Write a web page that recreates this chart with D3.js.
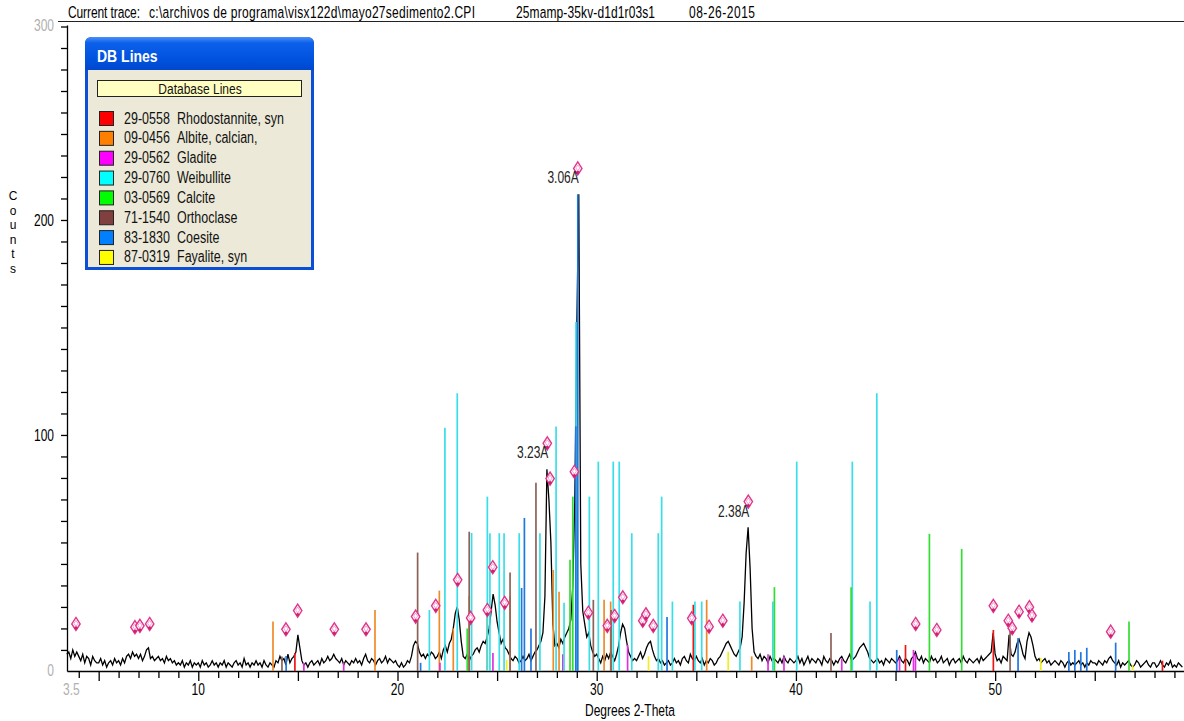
<!DOCTYPE html>
<html>
<head>
<meta charset="utf-8">
<title>DB Lines</title>
<script src="https://d3js.org/d3.v7.min.js"></script>
<style>
  body { margin: 0; background: #fff; overflow: hidden; }
  svg text { font-family: Arial, "Liberation Sans", sans-serif; }
</style>
</head>
<body>
<div id="chart"></div>
<script>
// ---- data ----
// scan: 2-theta from 3.4 in steps of 0.1 deg, counts
var traceStart = 3.4, traceStep = 0.1;
var traceCounts = [
  -2, -1, -4, 0, -3, -1,
  -3, -5, -2, -6, -3, -4, -7, -3, -5, -6,
  -6, -4, -7, -5, -8, -6, -5, -7, -4, -6,
  -5, -7, -4, -6, -3, -2, -4, -1, -3, -2,
  -4, -2, -5, -3, 0, 1, -4, -3, -5, -4,
  -3, -5, -4, -6, -3, -5, -4, -6, -5, -7,
  -6, -7, -5, -8, -6, -7, -5, -8, -6, -7,
  -6, -8, -5, -7, -6, -8, -7, -5, -7, -6,
  -8, -6, -7, -5, -8, -6, -7, -8, -6, -5,
  -7, -6, -8, -4, -7, -6, -8, -6, -7, -5,
  -7, -6, -8, -5, -7, -8, -6, -7, -8, -5,
  -6, -3, -5, -4, -7, -2, -6, -4, -3, -1,
  7, 1, -5, -7, -6, -8, -6, -5, -7, -6,
  -5, -7, -4, -6, -5, -3, -5, -4, -2, -4,
  -5, -6, -4, -7, -5, -6, -7, -5, -6, -4,
  -6, -5, -7, -4, -2, -5, -6, -4, -5, -7,
  -5, -4, -6, -5, -3, -6, -4, -5, -6, -5,
  -7, -8, -6, -8, -7, -5, -6, -3, 2, 4,
  3, -1, -3, -2, -4, -2, -3, -1, -2, -4,
  -3, -1, -4, 0, 2, -1, 3, 5, 10, 17,
  20, 14, 4, -3, -4, -2, -5, -3, -2, 0,
  1, -1, 2, 4, 3, 6, 10, 18, 26, 21,
  13, 8, 3, 5, 1, 0, -2, -4, -5, -3,
  -4, -6, -5, -3, -5, -4, -2, -5, -3, -1,
  0, 2, 4, 8, 25, 84, 70, 50, 12, 2,
  3, 1, 5, 3, 6, 8, 10, 14, 30, 70,
  150, 212, 40, 18, 12, 6, 8, 2, -1, -3,
  -2, -4, -6, -3, -5, -2, -4, -1, -3, -5,
  -2, 2, 8, 12, 10, 4, -1, -3, -5, -4,
  -5, -3, -1, -4, -2, 1, 3, 4, 0, -3,
  -5, -4, -6, -5, -7, -6, -5, -7, -6, -4,
  -6, -5, -7, -4, -3, -5, -6, -2, -4, -5,
  -3, -5, -6, -4, -7, -5, -6, -4, -5, -7,
  -6, -4, -3, -1, 1, 3, 4, 2, 0, -2,
  -3, -1, 1, 6, 22, 45, 57, 38, 10, -1,
  -3, -4, -2, -5, -3, -4, -6, -3, -5, -4,
  -5, -6, -4, -6, -3, -5, -6, -4, -5, -6,
  -5, -3, -6, -4, -7, -5, -3, -6, -4, -5,
  -6, -4, -5, -7, -3, -5, -6, -4, -5, -7,
  -5, -6, -4, -3, -5, -6, -4, -2, -5, -4,
  -3, -1, 1, 2, 3, 1, -1, -4, -5, -6,
  -5, -4, -6, -5, -7, -4, -5, -6, -4, -5,
  -6, -5, -3, -5, -6, -4, -5, -7, -4, -3,
  -1, -4, -5, -3, -6, -4, -5, -6, -3, -5,
  -4, -6, -5, -3, -6, -5, -4, -7, -5, -4,
  -6, -5, -4, -6, -3, -5, -6, -4, -5, -6,
  -5, -4, -6, -3, -5, -4, -3, -2, -1, 8,
  -2, -5, -4, -6, -3, -4, -5, 7, -2, -3,
  -1, 3, 5, 2, -2, -4, 4, 8, 6, 2,
  -3, -5, -4, -6, -5, -4, -6, -5, -7, -6,
  -5, -6, -7, -5, -6, -8, -6, -5, -7, -6,
  -7, -6, -5, -7, -6, -8, -6, -7, -5, -6,
  -6, -7, -5, -6, -7, -5, -6, -4, -3, -5,
  -6, -7, -5, -8, -6, -7, -6, -5, -7, -8,
  -7, -5, -6, -8, -7, -6, -5, -7, -8, -6,
  -6, -8, -7, -5, -7, -8, -6, -7, -5, -8,
  -7, -8, -6, -7, -8
];

// database stick lines: [2-theta, counts]
var rhodostanniteLines = [[14.85, -1.4], [23.6, -3], [34.85, 21], [45.5, 2.3], [49.91, 9.3], [58.4, -5]];
var albiteLines = [[13.75, 13.2], [18.87, 18.6], [22.1, 27.6], [22.8, 10], [23.6, 25], [24.5, 20], [25.65, 25],
  [27.82, 37.2], [28.11, 27.1], [30.37, 23.3], [30.7, 22.5], [35.52, 23.3], [37.78, -3]];
var gladiteLines = [[15.3, -6], [17.3, -6], [22.13, -6], [24.79, -1.4], [28.3, -2], [31.55, 2.3], [38.6, -2],
  [39.4, -3], [42.3, -4], [45.2, -3.7], [45.9, 0], [46.0, -2]];
var weibulliteLines = [[21.6, 18.6], [22.38, 103.4], [23.0, 119.4], [23.72, 54.4], [24.51, 71.3], [24.64, 54.3],
  [25.11, 54.3], [25.35, 54.3], [26.11, 54.3], [27.15, 54.3], [27.96, 103.9], [28.36, 21.9], [28.96, 152.6],
  [29.63, 71.3], [30.08, 87.6], [30.83, 87.6], [31.13, 87.6], [31.76, 54.3], [33.09, 54.3], [33.26, 71.3],
  [33.8, 22.5], [34.93, 22.5], [35.27, 22.5], [37.19, 22.5], [38.84, 22.5], [40.04, 87.6], [42.83, 87.6],
  [43.72, 22.5], [44.06, 119.4]];
var calciteLines = [[23.5, 10], [28.66, 42], [28.8, 71.3], [38.92, 29.2], [42.77, 29.2], [46.7, 54], [48.32, 47], [56.72, 13.2]];
var orthoclaseLines = [[14.2, -3], [21.01, 45.3], [23.6, 55], [25.65, 36], [26.95, 77.8], [29.83, 23.3], [30.72, 18.6],
  [41.76, 7.9], [50.75, 12]];
var coesiteLines = [[14.41, -2.8], [21.16, -6], [26.23, 28.8], [26.37, 61.4], [26.7, 10], [28.95, 104], [29.05, 212],
  [33.53, 15.3], [45.06, 0], [51.15, 5.6], [53.7, -1], [54.0, 0], [54.3, -1], [54.6, 1], [56.05, 3.4]];
var fayaliteLines = [[25.48, -4.6], [32.6, -3], [36.6, -0.8], [52.29, -3.7], [56.9, -7]];

var phaseCodes = ["29-0558", "09-0456", "29-0562", "29-0760", "03-0569", "71-1540", "83-1830", "87-0319"];
var phaseNames = ["Rhodostannite, syn", "Albite, calcian,", "Gladite", "Weibullite", "Calcite", "Orthoclase", "Coesite", "Fayalite, syn"];
var phaseLines = [rhodostanniteLines, albiteLines, gladiteLines, weibulliteLines, calciteLines, orthoclaseLines, coesiteLines, fayaliteLines];
var phaseColors = ["#ff0000", "#ff8000", "#ff00ff", "#00ffff", "#00ff00", "#804040", "#0080ff", "#ffff00"];
var stickColors = ["#e81818", "#f08a28", "#e030e0", "#38dfe8", "#33dd33", "#8c6258", "#1f78e0", "#f0ee20"];

// peak markers (2-theta, counts) and d-spacing labels
var peakDeg = [3.86, 6.82, 7.07, 7.56, 14.40, 14.99, 16.83, 18.42, 20.91, 21.92, 23.02, 23.67, 24.51, 24.78, 25.38,
  27.52, 27.66, 28.88, 29.05, 29.58, 30.53, 30.90, 31.31, 32.31, 32.47, 32.84, 34.77, 35.64, 36.33, 37.61,
  46.01, 47.07, 49.91, 50.66, 50.86, 51.20, 51.72, 51.85, 55.80];
var peakCounts = [12.1, 10.6, 11.2, 12.1, 9.6, 18.3, 9.6, 9.6, 15.5, 20.5, 32.6, 14.9, 18.6, 38.5, 21.9,
  96.1, 79.7, 82.9, 224, 17.3, 11.2, 15.8, 24.5, 13.6, 16.6, 11.2, 14.7, 10.8, 13.6, 69,
  12.1, 9.3, 20.5, 13.6, 10.1, 17.8, 19.9, 16, 8.5];
var labelText = ["3.23A", "3.06A", "2.38A"];
var labelDeg = [27.52, 29.05, 37.61];
var labelCounts = [96.1, 224, 69];

var xTickLabels = [10, 20, 30, 40, 50];
var yTickLabels = [100, 200];

// ---- chart ----
var W = 1184, H = 721;
var svg = d3.select("#chart").append("svg").attr("width", W).attr("height", H);

var x = d3.scaleLinear().domain([3.41, 59.48]).range([67, 1184]);
var y = d3.scaleLinear().domain([-9.8, 290.7]).range([671, 25]);
var base = y.range()[0];

// text in the screenshot is drawn tall and narrow
function label(g, px, py, str, anchor, size, sy, color, weight) {
  return g.append("text")
    .attr("transform", "translate(" + px + "," + py + ") scale(1," + sy + ")")
    .attr("text-anchor", anchor)
    .attr("font-size", size)
    .attr("font-weight", weight || "normal")
    .attr("fill", color || "#000")
    .text(str);
}

// header
svg.append("line").attr("x1", 58).attr("x2", W).attr("y1", 21.5).attr("y2", 21.5)
  .attr("stroke", "#222").attr("stroke-width", 1.2);
label(svg, 68, 18, "Current trace:", "start", 12, 1.4).attr("textLength", 72);
label(svg, 149, 18, "c:\\archivos de programa\\visx122d\\mayo27sedimento2.CPI", "start", 12, 1.4).attr("textLength", 326);
label(svg, 516, 18, "25mamp-35kv-d1d1r03s1", "start", 12, 1.4).attr("textLength", 139);
label(svg, 689, 18, "08-26-2015", "start", 12, 1.4).attr("textLength", 66);

// axes
var gx = svg.append("g").attr("transform", "translate(0," + base + ")")
  .call(d3.axisBottom(x).tickValues(d3.range(4, 60)).tickSize(7).tickSizeOuter(0).tickFormat(""));
gx.selectAll(".tick line").attr("y2", function(d) { return d % 5 === 0 ? 10 : 7; });
var gy = svg.append("g").attr("transform", "translate(" + x.range()[0] + ",0)")
  .call(d3.axisLeft(y).tickValues(d3.range(0, 291, 10)).tickSize(6).tickSizeOuter(0).tickFormat(""));
svg.selectAll(".domain, .tick line").attr("stroke", "#000").attr("stroke-width", 1.3);

xTickLabels.forEach(function(v) { label(svg, x(v), 695, v, "middle", 12, 1.4); });
label(svg, x.range()[0] - 4, 695, "3.5", "start", 12, 1.4, "#b0b0b0");
yTickLabels.forEach(function(v) { label(svg, 54, y(v) + 6, v, "end", 12, 1.4); });
label(svg, 54, y.range()[1] + 6, "300", "end", 12, 1.4, "#b0b0b0");
label(svg, 54, base + 5, "0", "end", 12, 1.4, "#b0b0b0");
label(svg, 630, 716, "Degrees 2-Theta", "middle", 12, 1.4);

// stacked y title, one letter per line
"Counts".split("").forEach(function(ch, i) {
  label(svg, 13, 200 + i * 14.6, ch, "middle", 12, 1.05);
});

// scan trace
var traceData = traceCounts.map(function(c, i) { return [traceStart + i * traceStep, c]; });
svg.append("path").datum(traceData)
  .attr("d", d3.line().x(function(d) { return x(d[0]); }).y(function(d) { return y(d[1]); }))
  .attr("fill", "none").attr("stroke", "#000").attr("stroke-width", 1.3);

// database lines
phaseLines.forEach(function(lines, k) {
  svg.append("g").selectAll("line").data(lines).enter().append("line")
    .attr("x1", function(d) { return x(d[0]); })
    .attr("x2", function(d) { return x(d[0]); })
    .attr("y1", base)
    .attr("y2", function(d) { return y(d[1]); })
    .attr("stroke", stickColors[k]).attr("stroke-width", 1.7);
});

// peak markers
var mk = svg.append("g").selectAll("g").data(d3.zip(peakDeg, peakCounts)).enter().append("g")
  .attr("transform", function(d) { return "translate(" + x(d[0]) + "," + y(d[1]) + ")"; });
mk.append("path").attr("d", "M0,-6.5L4.2,0L0,6.5L-4.2,0Z")
  .attr("fill", "#fff").attr("stroke", "#e0368c").attr("stroke-width", 1.4);
mk.append("path").attr("d", "M0,-3.5L2,-0.5L0,2.5L-2,-0.5Z")
  .attr("fill", "none").attr("stroke", "#f08cc0").attr("stroke-width", 0.8);
mk.append("circle").attr("cy", 4).attr("r", 1.7).attr("fill", "#d0206f");

labelText.forEach(function(t, i) {
  label(svg, x(labelDeg[i]) + 1, y(labelCounts[i]) + 15, t, "end", 12, 1.3, "#222");
});

// legend window
var lg = svg.append("g");
var defs = svg.append("defs");
var grad = defs.append("linearGradient").attr("id", "tbar").attr("x1", 0).attr("x2", 0).attr("y1", 0).attr("y2", 1);
grad.append("stop").attr("offset", "0%").attr("stop-color", "#4a90f8");
grad.append("stop").attr("offset", "18%").attr("stop-color", "#0c60ea");
grad.append("stop").attr("offset", "70%").attr("stop-color", "#0052de");
grad.append("stop").attr("offset", "100%").attr("stop-color", "#0048cc");

lg.append("path").attr("d", "M85,270L85,44Q85,37 92,37L307,37Q314,37 314,44L314,270Z").attr("fill", "#0a4fd6");
lg.append("path").attr("d", "M85,70L85,44Q85,37 92,37L307,37Q314,37 314,44L314,70Z").attr("fill", "url(#tbar)");
lg.append("rect").attr("x", 88).attr("y", 70).attr("width", 223).attr("height", 197).attr("fill", "#ece9d8");
label(lg, 97, 62, "DB Lines", "start", 14, 1.15, "#fff", "bold");
lg.append("rect").attr("x", 97.5).attr("y", 80.5).attr("width", 204).attr("height", 16)
  .attr("fill", "#ffffc1").attr("stroke", "#222");
label(lg, 200, 94, "Database Lines", "middle", 12, 1.15, "#111");

phaseCodes.forEach(function(code, i) {
  var ty = 111 + i * 19.85;
  lg.append("rect").attr("x", 99.5).attr("y", ty + 0.5).attr("width", 14).attr("height", 14)
    .attr("fill", phaseColors[i]).attr("stroke", "#222");
  label(lg, 124, ty + 12.5, code, "start", 12.5, 1.3, "#111");
  label(lg, 177, ty + 12.5, phaseNames[i], "start", 12.5, 1.3, "#111");
});
</script>
</body>
</html>
